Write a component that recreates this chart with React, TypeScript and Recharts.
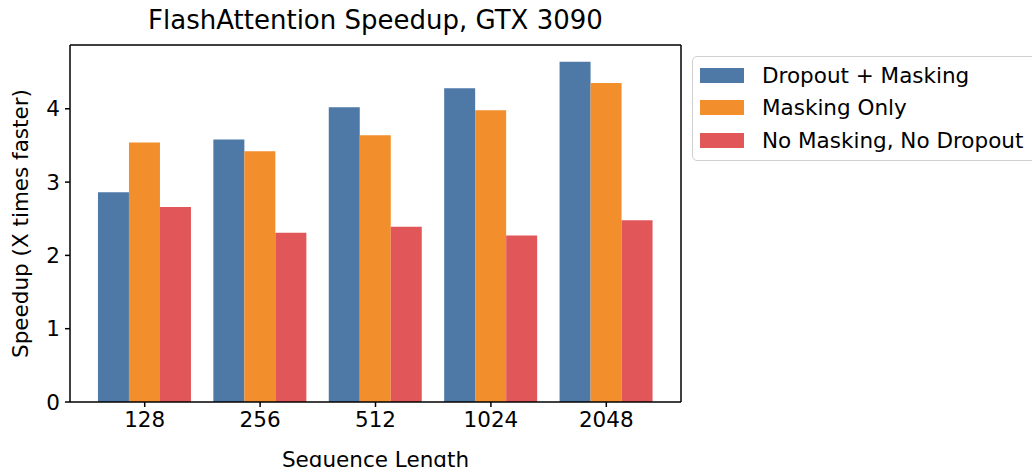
import { BarChart, Bar, XAxis, YAxis } from 'recharts';

document.body.style.margin = '0';

const lengths = ['128', '256', '512', '1024', '2048'];
const dropoutMasking = [2.86, 3.58, 4.02, 4.28, 4.64];
const maskingOnly = [3.54, 3.42, 3.64, 3.98, 4.35];
const noMasking = [2.66, 2.31, 2.39, 2.27, 2.48];
const yTicks = [0, 1, 2, 3, 4];

const SERIES = [
  { key: 'dm', name: 'Dropout + Masking', color: '#4e79a7' },
  { key: 'mo', name: 'Masking Only', color: '#f28e2b' },
  { key: 'nn', name: 'No Masking, No Dropout', color: '#e15759' },
];

const FONT = 'DejaVu Sans, sans-serif';
const FS = 21.5;

const data = lengths.map((len, i) => ({
  len,
  dm: dropoutMasking[i],
  mo: maskingOnly[i],
  nn: noMasking[i],
}));

function LegendBox() {
  return (
    <div
      style={{
        position: 'absolute',
        left: 692,
        top: 56,
        border: '1.5px solid #d0d0d0',
        borderRadius: 5,
        background: '#fff',
        padding: '2px 10px 3px 7px',
        width: 360,
        fontFamily: FONT,
        fontSize: FS,
        boxSizing: 'border-box',
      }}
    >
      {SERIES.map((s) => (
        <div key={s.key} style={{ display: 'flex', alignItems: 'center', height: 32.5 }}>
          <span style={{ display: 'inline-block', width: 44, height: 15, background: s.color, marginRight: 18 }} />
          <span style={{ color: '#000', whiteSpace: 'nowrap' }}>{s.name}</span>
        </div>
      ))}
    </div>
  );
}

export default function App() {
  return (
    <div style={{ position: 'relative', width: 1032, height: 467, overflow: 'hidden', background: '#fff' }}>
      <div
        style={{
          position: 'absolute',
          left: 70,
          width: 611,
          top: 5,
          textAlign: 'center',
          fontFamily: FONT,
          fontSize: 26,
          color: '#000',
        }}
      >
        FlashAttention Speedup, GTX 3090
      </div>
      <BarChart
        width={1032}
        height={467}
        data={data}
        margin={{ top: 44, right: 350, bottom: 0, left: 0 }}
        barCategoryGap="9.5%"
        barGap={0}
      >
        <XAxis
          dataKey="len"
          height={65}
          interval={0}
          padding={{ left: 17, right: 17 }}
          tickSize={5}
          tickMargin={5}
          stroke="#000"
          tick={{ fill: '#000', fontFamily: FONT, fontSize: FS }}
          axisLine={{ stroke: '#000', strokeWidth: 1.5 }}
          tickLine={{ stroke: '#000', strokeWidth: 1.5 }}
          label={{ value: 'Sequence Length', position: 'insideBottom', offset: 0, fill: '#000', fontFamily: FONT, fontSize: FS }}
        />
        <XAxis
          xAxisId="top"
          dataKey="len"
          orientation="top"
          height={1}
          tick={false}
          tickLine={false}
          axisLine={{ stroke: '#000', strokeWidth: 1.5 }}
        />
        <YAxis
          domain={[0, 4.87]}
          ticks={yTicks}
          width={70}
          tickSize={5}
          tickMargin={5}
          allowDataOverflow
          tick={{ fill: '#000', fontFamily: FONT, fontSize: FS }}
          axisLine={{ stroke: '#000', strokeWidth: 1.5 }}
          tickLine={{ stroke: '#000', strokeWidth: 1.5 }}
          label={{
            content: ({ viewBox }: any) => {
              const cx = viewBox.x + 20;
              const cy = viewBox.y + viewBox.height / 2;
              return (
                <text
                  x={cx}
                  y={cy}
                  transform={`rotate(-90 ${cx} ${cy})`}
                  textAnchor="middle"
                  dominantBaseline="central"
                  fontFamily={FONT}
                  fontSize={FS}
                  fill="#000"
                >
                  Speedup (X times faster)
                </text>
              );
            },
          }}
        />
        <YAxis
          yAxisId="right"
          orientation="right"
          width={1}
          domain={[0, 4.87]}
          tick={false}
          tickLine={false}
          axisLine={{ stroke: '#000', strokeWidth: 1.5 }}
        />
        {SERIES.map((s) => (
          <Bar key={s.key} dataKey={s.key} name={s.name} fill={s.color} isAnimationActive={false} />
        ))}
      </BarChart>
      <LegendBox />
    </div>
  );
}
